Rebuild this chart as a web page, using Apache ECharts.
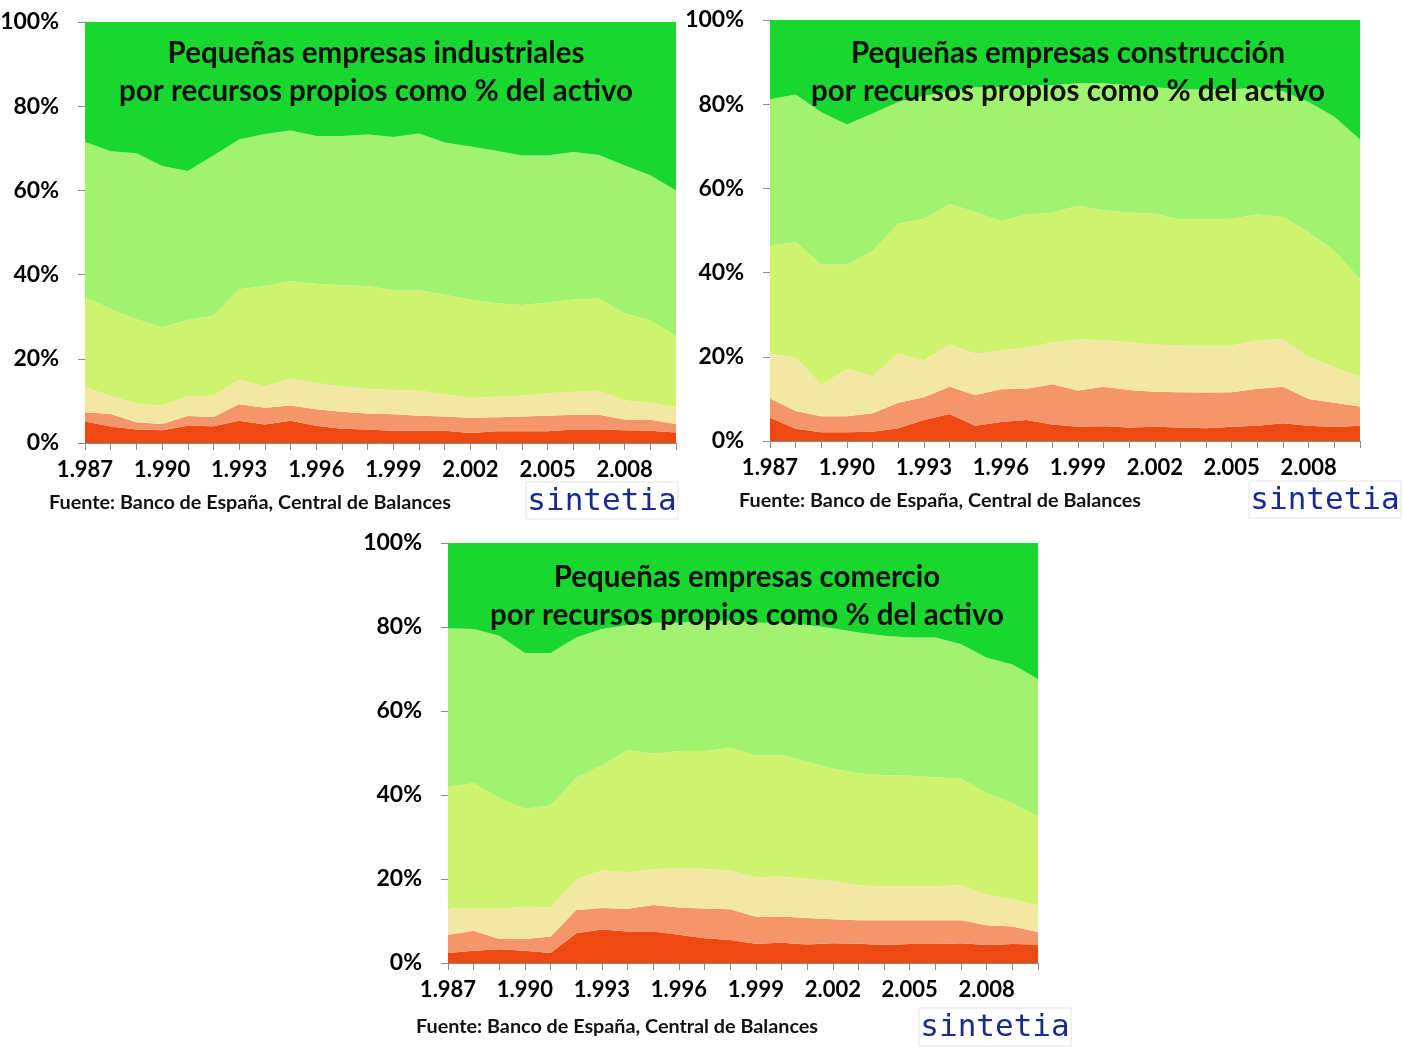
<!DOCTYPE html>
<html>
<head>
<meta charset="utf-8">
<script src="https://cdn.jsdelivr.net/npm/echarts@6/dist/echarts.min.js"></script>
<style>
html,body{margin:0;padding:0;background:#fff;}
#c{width:1404px;height:1050px;}
</style>
</head>
<body>
<div id="c"></div>
<script>
// Years (category axis)
const years = ['1.987','1.988','1.989','1.990','1.991','1.992','1.993','1.994','1.995','1.996','1.997','1.998','1.999','2.000','2.001','2.002','2.003','2.004','2.005','2.006','2.007','2.008','2.009','2.010'];
const yTicks = [0, 20, 40, 60, 80, 100];

// Cumulative boundaries (% of companies), bottom bracket upward.
// Pequeñas empresas industriales
const indC1 = [5.1,3.9,3.2,3.0,4.1,4.0,5.3,4.4,5.3,4.1,3.4,3.2,2.9,2.9,2.9,2.4,2.8,2.8,2.8,3.2,3.2,3.0,2.9,2.5];
const indC2 = [7.3,6.9,4.9,4.5,6.4,6.2,9.2,8.4,8.9,8.0,7.4,7.0,6.8,6.5,6.3,6.0,6.1,6.3,6.5,6.7,6.7,5.6,5.5,4.5];
const indC3 = [13.3,11.1,9.4,8.9,11.1,11.2,15.0,13.5,15.3,14.2,13.5,12.8,12.6,12.4,11.6,10.7,11.0,11.2,11.8,12.1,12.4,10.1,9.6,8.4];
const indC4 = [34.6,31.8,29.4,27.5,29.2,30.2,36.5,37.3,38.4,37.8,37.5,37.3,36.3,36.3,35.2,34.1,33.2,32.8,33.4,34.1,34.3,30.8,29.1,25.4];
const indC5 = [71.5,69.3,68.8,65.8,64.6,68.3,72.1,73.4,74.2,72.9,72.9,73.3,72.7,73.5,71.4,70.4,69.4,68.3,68.3,69.1,68.4,65.9,63.6,60.0];
// Pequeñas empresas construcción
const conC1 = [5.5,2.9,2.1,2.1,2.2,3.0,5.0,6.4,3.6,4.5,5.0,3.9,3.4,3.5,3.2,3.4,3.2,3.0,3.4,3.6,4.2,3.6,3.3,3.6];
const conC2 = [10.1,7.1,5.9,5.9,6.6,9.1,10.4,12.9,10.9,12.3,12.4,13.5,12.0,12.9,12.1,11.7,11.6,11.5,11.6,12.4,12.9,10.0,9.1,8.2];
const conC3 = [20.7,19.9,13.3,17.1,15.4,20.8,19.1,23.0,20.7,21.5,22.2,23.4,24.1,24.0,23.4,22.9,22.6,22.6,22.6,24.0,24.1,19.9,17.5,15.3];
const conC4 = [46.5,47.2,41.9,41.9,45.2,51.6,52.8,56.3,54.4,52.2,53.8,54.2,55.9,54.8,54.3,54.0,52.6,52.6,52.8,53.8,53.2,49.6,45.2,38.5];
const conC5 = [81.2,82.3,78.1,75.2,77.8,80.5,82.0,83.0,84.0,84.0,84.5,84.5,85.0,85.0,84.5,84.0,83.5,83.5,83.5,84.0,83.0,80.5,77.0,71.6];
// Pequeñas empresas comercio
const comC1 = [2.4,2.9,3.3,2.9,2.4,7.1,8.0,7.5,7.5,6.7,5.9,5.5,4.6,4.8,4.4,4.7,4.6,4.3,4.5,4.5,4.7,4.3,4.5,4.4];
const comC2 = [6.7,7.7,5.7,5.7,6.3,12.6,13.1,12.9,13.8,13.2,13.0,12.8,11.0,11.1,10.7,10.4,10.2,10.2,10.2,10.2,10.2,9.0,8.7,7.4];
const comC3 = [13.0,13.0,12.9,13.4,13.3,19.9,22.0,21.6,22.3,22.6,22.4,22.0,20.4,20.6,20.0,19.6,18.5,18.2,18.3,18.3,18.6,16.3,15.2,13.7];
const comC4 = [42.0,42.8,39.3,36.7,37.5,44.1,47.1,50.7,49.8,50.5,50.5,51.2,49.4,49.5,47.9,46.3,45.2,44.7,44.6,44.2,43.9,40.5,38.0,34.8];
const comC5 = [79.7,79.5,77.9,73.8,73.8,77.5,79.5,80.5,81.0,81.0,81.5,81.5,81.0,81.0,80.5,79.7,78.7,77.9,77.5,77.5,75.9,72.7,71.1,67.6];

const titles = [
  'Pequeñas empresas industriales\npor recursos propios como % del activo',
  'Pequeñas empresas construcción\npor recursos propios como % del activo',
  'Pequeñas empresas comercio\npor recursos propios como % del activo'
];
const sourceText = 'Fuente: Banco de España, Central de Balances';
const logoText = 'sintetia';

const layerColors = ['#EE4813','#F5956C','#F2E8A3','#CFF36F','#A1F26F','#19D72F'];
const FONT = 'Lato, "Open Sans", sans-serif';

// derive the six layer shares from the cumulative boundaries
function shares(cums) {
  const out = [];
  let prev = years.map(() => 0);
  cums.forEach(c => {
    out.push(c.map((v, i) => +(v - prev[i]).toFixed(2)));
    prev = c;
  });
  out.push(prev.map(v => +(100 - v).toFixed(2)));
  return out;
}
const charts = [
  shares([indC1, indC2, indC3, indC4, indC5]),
  shares([conC1, conC2, conC3, conC4, conC5]),
  shares([comC1, comC2, comC3, comC4, comC5])
];

const grids = [
  {left: 85, top: 22, width: 591, height: 421, outerBoundsMode: 'none', containLabel: false},
  {left: 770, top: 20, width: 590, height: 421, outerBoundsMode: 'none', containLabel: false},
  {left: 448, top: 543, width: 590, height: 420, outerBoundsMode: 'none', containLabel: false}
];

const axisGray = '#8c8c8c';
const xAxes = grids.map((g, k) => ({
  type: 'category', gridIndex: k, data: years, boundaryGap: false,
  axisLine: {show: true, lineStyle: {color: axisGray, width: 1}},
  axisTick: {show: true, interval: 0, length: 7, lineStyle: {color: axisGray}},
  axisLabel: {interval: 2, margin: 16, color: '#000', fontFamily: FONT, fontWeight: 'bold', fontSize: 22},
  splitLine: {show: false}
}));
const yAxes = grids.map((g, k) => ({
  type: 'value', gridIndex: k, min: yTicks[0], max: yTicks[yTicks.length - 1], interval: 20,
  axisLine: {show: true, lineStyle: {color: axisGray, width: 1}},
  axisTick: {show: true, length: 7, lineStyle: {color: axisGray}},
  axisLabel: {margin: 26, color: '#000', fontFamily: FONT, fontWeight: 'bold', fontSize: 23, formatter: '{value}%'},
  splitLine: {show: false}
}));

const series = [];
charts.forEach((layers, k) => {
  layers.forEach((vals, j) => {
    series.push({
      type: 'line', xAxisIndex: k, yAxisIndex: k, stack: 'g' + k,
      data: vals, symbol: 'none', smooth: false,
      lineStyle: {width: 0}, areaStyle: {color: layerColors[j], opacity: 1},
      itemStyle: {color: layerColors[j]}, z: 2, silent: true
    });
  });
});

const titlePos = [[376, 72], [1068, 72], [747, 596]];
const sourcePos = [[49, 503], [739, 501], [416, 1027]];
const logoBox = [[526, 482, 152, 37], [1249, 481, 152, 37], [919, 1008, 152, 38]];

const graphic = [];
titlePos.forEach((p, k) => {
  graphic.push({type: 'text', x: p[0], y: p[1], z: 10,
    style: {text: titles[k], fill: '#111', font: 'bold 29.5px ' + FONT, textAlign: 'center', textVerticalAlign: 'middle', lineHeight: 38}});
});
sourcePos.forEach((p) => {
  graphic.push({type: 'text', x: p[0], y: p[1], z: 10,
    style: {text: sourceText, fill: '#111', font: 'bold 19.8px ' + FONT, textAlign: 'left', textVerticalAlign: 'middle'}});
});
logoBox.forEach((b) => {
  graphic.push({type: 'rect', shape: {x: b[0], y: b[1], width: b[2], height: b[3]}, z: 9,
    style: {fill: '#fff', stroke: '#e4e4e4', lineWidth: 1}});
  graphic.push({type: 'text', x: b[0] + b[2] / 2, y: b[1] + b[3] / 2 + 1, z: 10,
    style: {text: logoText, fill: '#1b2a8f', font: '31px "DejaVu Sans Mono", monospace', textAlign: 'center', textVerticalAlign: 'middle'}});
});

const chart = echarts.init(document.getElementById('c'), null, {renderer: 'canvas'});
chart.setOption({
  animation: false,
  backgroundColor: '#ffffff',
  grid: grids,
  xAxis: xAxes,
  yAxis: yAxes,
  series: series,
  graphic: graphic
});
</script>
</body>
</html>
